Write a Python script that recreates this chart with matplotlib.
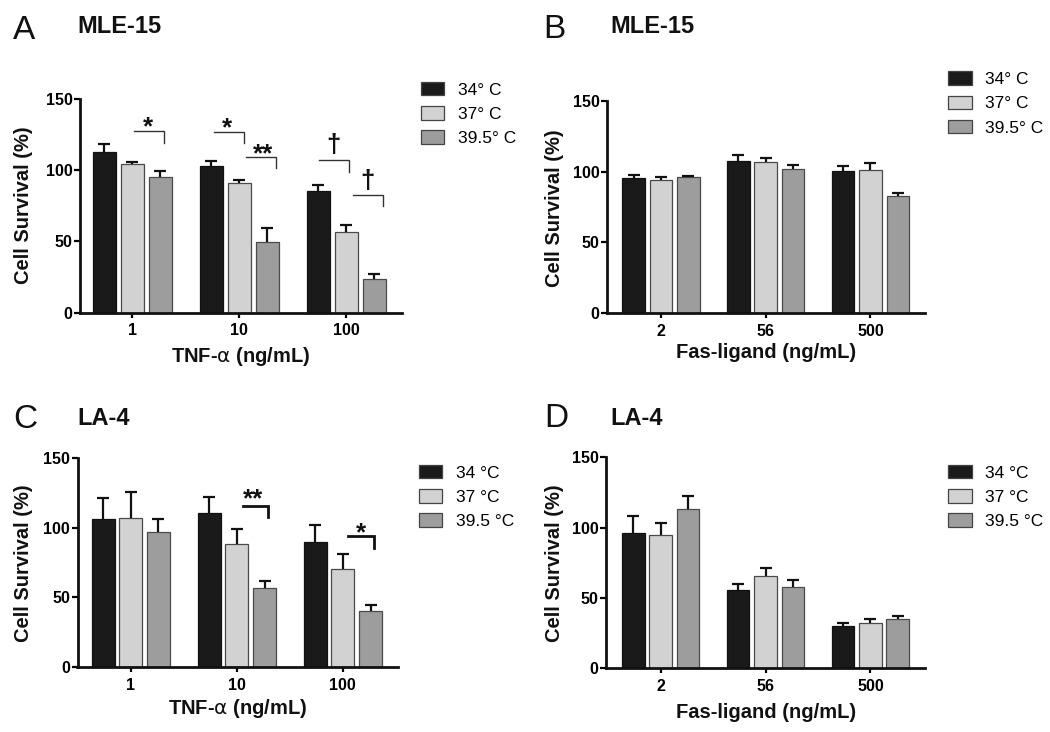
import numpy as np
import matplotlib
matplotlib.use("Agg")
import matplotlib.pyplot as plt
from matplotlib.patches import Patch

plt.rcParams['font.family'] = ['Liberation Sans', 'DejaVu Sans']
plt.rcParams['mathtext.fontset'] = 'dejavusans'

# ---------------- data ----------------
tnf_doses = ["1", "10", "100"]
fas_doses = ["2", "56", "500"]
labels_mle = ["34\u00b0 C", "37\u00b0 C", "39.5\u00b0 C"]
labels_la = ["34 \u00b0C", "37 \u00b0C", "39.5 \u00b0C"]

# Panel A: MLE-15, TNF-alpha
a_34 = [112.7, 102.8, 85.4]
a_37 = [104.7, 91.3, 56.9]
a_395 = [95.1, 49.9, 23.5]
a_34_err = [5.4, 3.5, 4.5]
a_37_err = [1.2, 2.1, 4.7]
a_395_err = [4.2, 9.4, 3.8]

# Panel B: MLE-15, Fas-ligand
b_34 = [95.5, 107.8, 100.5]
b_37 = [94.3, 106.4, 101.0]
b_395 = [96.2, 102.1, 83.0]
b_34_err = [2.4, 3.8, 3.5]
b_37_err = [1.9, 3.3, 5.0]
b_395_err = [0.5, 2.6, 2.0]

# Panel C: LA-4, TNF-alpha
c_34 = [106.2, 110.7, 89.7]
c_37 = [106.9, 88.1, 70.2]
c_395 = [96.9, 56.6, 40.6]
c_34_err = [15.3, 11.2, 12.2]
c_37_err = [18.4, 10.7, 11.2]
c_395_err = [9.5, 5.5, 4.1]

# Panel D: LA-4, Fas-ligand
d_34 = [96.2, 55.6, 30.3]
d_37 = [94.5, 65.6, 32.0]
d_395 = [113.1, 58.0, 35.3]
d_34_err = [11.9, 4.0, 2.0]
d_37_err = [9.0, 5.7, 3.0]
d_395_err = [9.3, 5.0, 2.0]

# significance annotations: (x_left, x_right, y_line, y_tick_end)
brackets_a = [(0.02, 0.295, 127.5, 119.3), (0.767, 1.045, 126.8, 118.9),
              (1.064, 1.344, 109.3, 101.3), (1.743, 2.023, 107.0, 99.0),
              (2.061, 2.337, 82.8, 74.9)]
marks_a = [("*", 0.145, 135.7), ("*", 0.883, 134.5), ("**", 1.22, 116.8),
           ("\u2020", 1.88, 117.7), ("\u2020", 2.197, 92.6)]
brackets_c = [(1.055, 1.297, 115.7, 107.8), (2.052, 2.295, 93.8, 85.6)]
marks_c = [("**", 1.15, 125.7), ("*", 2.17, 101.6)]

# ---------------- style ----------------
W, H = 1050, 732
colors = ["#1a1a1a", "#d2d2d2", "#9d9d9d"]
edges = ["#111111", "#4a4a4a", "#4a4a4a"]
bar_w = 0.216
offset = 0.261

fig = plt.figure(figsize=(W / 100, H / 100), dpi=100)


def px_axes(x0, x1, ytop, ybot):
    return fig.add_axes([x0 / W, 1 - ybot / H, (x1 - x0) / W, (ybot - ytop) / H])


def draw_panel(ax, doses, means, errs, xlim):
    x = np.arange(len(doses))
    for i, (m, e) in enumerate(zip(means, errs)):
        xi = x + (i - 1) * offset
        ax.bar(xi, m, width=bar_w, color=colors[i], edgecolor=edges[i],
               linewidth=0.9, zorder=2)
        m_arr = np.asarray(m, dtype=float)
        eb = ax.errorbar(xi, m_arr, yerr=[np.zeros(len(m)), e], fmt='none',
                         ecolor='#111111', elinewidth=1.6, capsize=4.3,
                         capthick=1.6, zorder=3)
        for cap in eb[1]:
            if np.allclose(cap.get_ydata(), m_arr):
                cap.set_visible(False)
    ax.set_xlim(*xlim)
    ax.set_ylim(0, 150)
    ax.set_yticks([0, 50, 100, 150])
    ax.set_xticks(x)
    ax.set_xticklabels(doses)
    for s in ["top", "right"]:
        ax.spines[s].set_visible(False)
    for s in ["left", "bottom"]:
        ax.spines[s].set_linewidth(2.0)
        ax.spines[s].set_color('#111111')
    ax.tick_params(axis='y', length=4.3, width=1.6, pad=1, labelsize=11.5)
    ax.tick_params(axis='x', length=3.5, width=1.6, pad=4, labelsize=11.5)
    for lab in ax.get_xticklabels() + ax.get_yticklabels():
        lab.set_fontweight('bold')


def draw_sig(ax, brackets, marks, lw, col):
    for xl, xr, y, yt in brackets:
        ax.plot([xl, xr, xr], [y, y, yt], color=col, lw=lw, zorder=4,
                solid_joinstyle='miter', clip_on=False)
    for s, x, y in marks:
        off = 0.565 if "*" in s else 0.29
        ax.annotate(s, xy=(x, y), xytext=(0, -off * 18.5), textcoords='offset points',
                    ha='center', va='baseline', fontsize=18.5, fontweight='bold',
                    color='#111111', annotation_clip=False)


def ftext(x, y, s, **kw):
    fig.text(x / W, 1 - y / H, s, **kw)


def add_legend(labels, x, ytop):
    handles = [Patch(facecolor=colors[i], edgecolor='#444444', linewidth=0.9)
               for i in range(3)]
    fig.legend(handles, labels, loc='upper left',
               bbox_to_anchor=(x / W, 1 - ytop / H), frameon=False,
               fontsize=12.5, handlelength=1.36, handleheight=0.81,
               handletextpad=0.77, labelspacing=0.49, borderpad=0,
               borderaxespad=0)


# Panel A
axA = px_axes(80, 402, 99, 312.7)
draw_panel(axA, tnf_doses, [a_34, a_37, a_395], [a_34_err, a_37_err, a_395_err], (-0.488, 2.519))
draw_sig(axA, brackets_a, marks_a, 1.0, '#333333')

# Panel B
axB = px_axes(607, 925, 100.7, 313.3)
draw_panel(axB, fas_doses, [b_34, b_37, b_395], [b_34_err, b_37_err, b_395_err], (-0.514, 2.52))

# Panel C
axC = px_axes(77.5, 398, 457.7, 667.3)
draw_panel(axC, tnf_doses, [c_34, c_37, c_395], [c_34_err, c_37_err, c_395_err], (-0.503, 2.52))
draw_sig(axC, brackets_c, marks_c, 2.0, '#111111')

# Panel D
axD = px_axes(606, 925, 457.3, 668.3)
draw_panel(axD, fas_doses, [d_34, d_37, d_395], [d_34_err, d_37_err, d_395_err], (-0.52, 2.52))

# Panel letters and titles
for letter, lx, ly, title, tx, ty in [("A", 13, 39, "MLE-15", 77, 33.3),
                                       ("B", 543, 38.5, "MLE-15", 610, 33.3),
                                       ("C", 13, 428, "LA-4", 77, 425),
                                       ("D", 544, 427, "LA-4", 610, 425)]:
    ftext(lx, ly, letter, fontsize=24, ha='left', va='baseline', color='#111111')
    ftext(tx, ty, title, fontsize=17, fontweight='bold', ha='left', va='baseline', color='#111111')

# axis labels
for (x, y) in [(24, 205), (554.5, 208), (24, 563), (554.5, 563)]:
    ftext(x, y, "Cell Survival (%)", fontsize=14.5, fontweight='bold', rotation=90,
          ha='center', va='center', color='#111111')
tnf_label = "TNF-$\\mathrm{\\alpha}$ (ng/mL)"
ftext(241, 356, tnf_label, fontsize=14.5, fontweight='bold', ha='center', va='center', color='#111111')
ftext(766, 353, "Fas-ligand (ng/mL)", fontsize=14.5, fontweight='bold', ha='center', va='center', color='#111111')
ftext(238, 708, tnf_label, fontsize=14.5, fontweight='bold', ha='center', va='center', color='#111111')
ftext(766, 713, "Fas-ligand (ng/mL)", fontsize=14.5, fontweight='bold', ha='center', va='center', color='#111111')

# legends
add_legend(labels_mle, 420.7, 82)
add_legend(labels_mle, 948.3, 71.5)
add_legend(labels_la, 418.7, 465)
add_legend(labels_la, 948.3, 465)

fig.savefig("out.png", dpi=100)
